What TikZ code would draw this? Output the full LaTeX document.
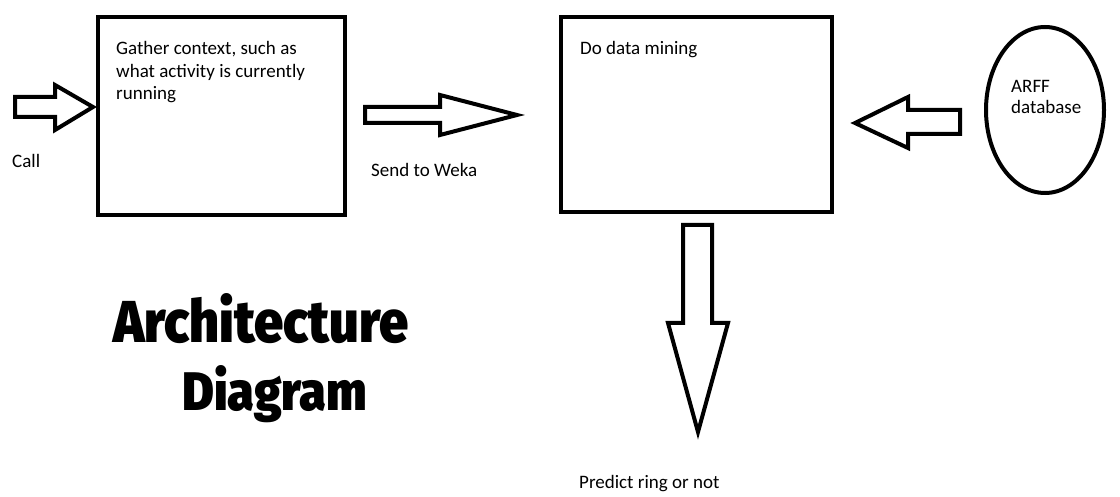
\documentclass[tikz,border=0pt]{standalone}
\usepackage{fontspec}
\setmainfont{Carlito}
\newfontfamily\heavyfont{Fira Sans Black}
\usetikzlibrary{shapes.geometric}
\tikzset{
  outline/.style={draw=black, line width=4pt},
  blockarrow/.style={draw=black, line width=4pt, fill=white, line join=miter},
  label/.style={inner sep=0pt, anchor=base west, font=\fontsize{19}{22.5}\selectfont, text=black},
  headline/.style={inner sep=0pt, anchor=base west, font=\heavyfont, text=black}
}
\begin{document}
\begin{tikzpicture}[x=1pt, y=-1pt]
  \useasboundingbox (0,0) rectangle (1120,497);
  \fill[white] (0,0) rectangle (1120,497);

  % process boxes and the data source
  \node[outline, rectangle, minimum width=247pt, minimum height=198pt, inner sep=0pt] (gather) at (221.5,116) {};
  \node[outline, rectangle, minimum width=271pt, minimum height=195pt, inner sep=0pt] (mining) at (696.5,114.5) {};
  \node[outline, ellipse, minimum width=118pt, minimum height=166pt, inner sep=0pt] (arff) at (1045,110) {};

  % texts inside the shapes (a multi-line node sits on its last baseline)
  \node[label, align=left] (gathertext) at (116,100) {Gather context, such as\\what activity is currently\\running};
  \node[label] (miningtext) at (580,55) {Do data mining};
  \node[label, align=left, font=\fontsize{19}{21}\selectfont] (arfftext) at (1011,114) {ARFF\\database};

  % block arrows
  \draw[blockarrow] (15,97) -- (55,97) -- (55,85) -- (93,107) -- (55,130) -- (55,117) -- (15,117) -- cycle;
  \draw[blockarrow] (365,107) -- (440,107) -- (440,95) -- (517,115) -- (440,135) -- (440,123) -- (365,123) -- cycle;
  \draw[blockarrow] (960,110) -- (908,110) -- (908,97) -- (855,123) -- (908,148) -- (908,134) -- (960,134) -- cycle;
  \draw[blockarrow] (683,225) -- (712,225) -- (712,323) -- (728,323) -- (698,432) -- (668,323) -- (683,323) -- cycle;

  % arrow captions
  \node[label] (call) at (12,168) {Call};
  \node[label] (send) at (371,177) {Send to Weka};
  \node[label] (predict) at (579,488) {Predict ring or not};

  % title
  \node[headline] (title1) at (113,342) {\resizebox{295pt}{49pt}{Architecture}};
  \node[headline] (title2) at (182,410) {\resizebox{185pt}{45pt}{Diagram}};
\end{tikzpicture}
\end{document}
